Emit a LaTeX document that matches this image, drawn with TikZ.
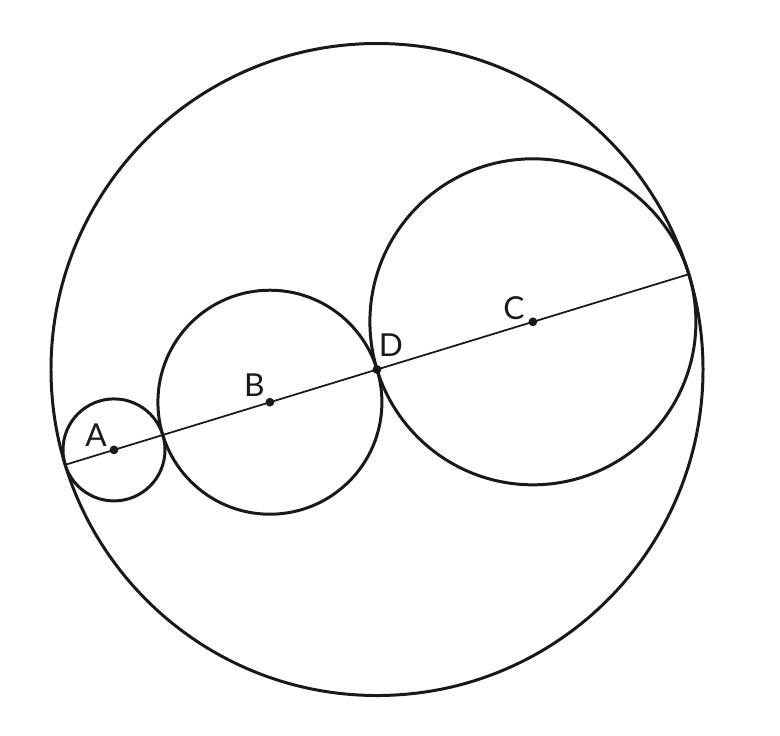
\documentclass[tikz,border=0pt]{standalone}
\usepackage{fontspec}
\setmainfont{Lato}
\tikzset{
    ring/.style={line width=1.7pt, draw=black!90},
    dot/.style={circle, fill=black!90, inner sep=0pt, minimum size=5pt},
    lbl/.style={inner sep=0pt, text=black!90, font=\fontsize{18}{20}\selectfont}
}
\begin{document}
\begin{tikzpicture}[x=0.02cm, y=-0.02cm]
            \useasboundingbox (0, 0) rectangle (780, 735);

            \coordinate (L) at (65.2, 464.8);
            \coordinate (E) at (688.8, 274.2);

            \draw[ring](377, 369.5) circle (326);
            \draw[ring](114, 449.9) circle (51);
            \draw[ring](269.9, 402.2) circle (112);
            \draw[ring](532.9, 321.8) circle (163);

            \draw[line width=1pt, draw=black!90](L) -- (E);

            \node[dot] at(114, 449.9)(A){};
            \node[dot] at(269.9, 402.2)(B){};
            \node[dot] at(532.9, 321.8)(C){};
            \node[dot] at(377, 369.5)(D){};

            \node[lbl] at([shift={(-18, -15)}]A)(la){A};
            \node[lbl] at([shift={(-15.5, -17.5)}]B)(lb){B};
            \node[lbl] at([shift={(-19, -14)}]C)(lc){C};
            \node[lbl] at([shift={(14, -24)}]D)(ld){D};
\end{tikzpicture}
\end{document}
